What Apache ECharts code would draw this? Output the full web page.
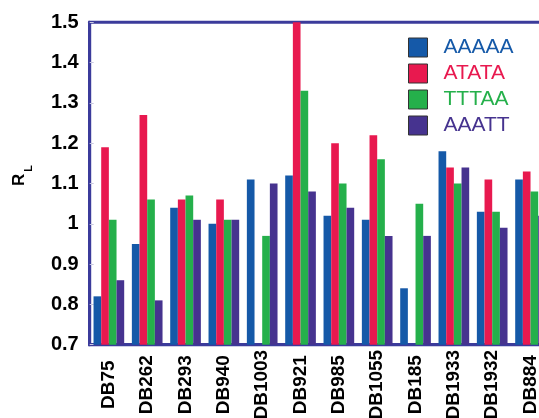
<!DOCTYPE html>
<html>
<head>
<meta charset="utf-8">
<script src="https://cdn.jsdelivr.net/npm/echarts@6/dist/echarts.min.js"></script>
<style>html,body{margin:0;padding:0;background:#fff}#c{width:539px;height:418px}</style>
</head>
<body>
<div id="c"></div>
<script>
const categories = ['DB75','DB262','DB293','DB940','DB1003','DB921','DB985','DB1055','DB185','DB1933','DB1932','DB884'];
const AAAAA = [0.82, 0.95, 1.04, 1.00, 1.11, 1.12, 1.02, 1.01, 0.84, 1.18, 1.03, 1.11];
const ATATA = [1.19, 1.27, 1.06, 1.06, null, 1.50, 1.20, 1.22, null, 1.14, 1.11, 1.13];
const TTTAA = [1.01, 1.06, 1.07, 1.01, 0.97, 1.33, 1.10, 1.16, 1.05, 1.10, 1.03, 1.08];
const AAATT = [0.86, 0.81, 1.01, 1.01, 1.10, 1.08, 1.04, 0.97, 0.97, 1.14, 0.99, 1.02];
const seriesNames = ['AAAAA','ATATA','TTTAA','AAATT'];
const seriesColors = ['#1559a8','#e8194f','#25b04b','#46338f'];
const seriesData = [AAAAA, ATATA, TTTAA, AAATT];

const axisColor = '#3b3b9b';
const chart = echarts.init(document.getElementById('c'));
chart.setOption({
  animation: false,
  grid: { left: 89.7, top: 22.3, width: 460, bottom: 73.3, outerBoundsMode: 'none', containLabel: false, show: true, borderColor: axisColor, borderWidth: 3, backgroundColor: 'transparent' },
  legend: {
    orient: 'vertical', left: 408, top: 37, padding: 0,
    itemWidth: 19, itemHeight: 19, itemGap: 5, icon: 'rect',
    itemStyle: { borderColor: '#333', borderWidth: 1 },
    textStyle: { fontSize: 21, fontFamily: 'Liberation Sans, Arial, sans-serif', padding: [0,0,0,11] },
    data: seriesNames.map((n, i) => ({ name: n, textStyle: { color: seriesColors[i] } }))
  },
  xAxis: {
    type: 'category', data: categories,
    axisLine: { lineStyle: { color: axisColor, width: 3 } },
    axisTick: { inside: true, length: 4, lineStyle: { color: '#c8c8e0' } },
    axisLabel: { rotate: 90, align: 'center', verticalAlign: 'middle', margin: 40, fontSize: 19, fontWeight: 'bold', color: '#000', fontFamily: 'Liberation Sans, Arial, sans-serif', interval: 0 }
  },
  yAxis: {
    type: 'value', min: 0.7, max: 1.5, interval: 0.1,
    name: '{r|R}{s|L}', nameLocation: 'middle', nameRotate: 90, nameGap: 55,
    nameTextStyle: {
      padding: [0, 0, 0, 16],
      rich: {
        r: { fontSize: 17, fontWeight: 'bold', color: '#000', fontFamily: 'Liberation Sans, Arial, sans-serif', verticalAlign: 'bottom', padding: [0,0,7,0] },
        s: { fontSize: 11, fontWeight: 'bold', color: '#000', fontFamily: 'Liberation Sans, Arial, sans-serif', verticalAlign: 'bottom', padding: [0,0,0,2] }
      }
    },
    axisLine: { show: true, lineStyle: { color: axisColor, width: 3 } },
    axisTick: { show: true, inside: true, length: 4, lineStyle: { color: '#c8c8e0' } },
    splitLine: { show: false },
    axisLabel: { fontSize: 20, fontWeight: 'bold', color: '#000', margin: 11, fontFamily: 'Liberation Sans, Arial, sans-serif' }
  },
  series: seriesNames.map((n, i) => ({
    name: n, type: 'bar', data: seriesData[i],
    barGap: '0%', barCategoryGap: '20%',
    itemStyle: { color: seriesColors[i] }
  }))
});
</script>
</body>
</html>
